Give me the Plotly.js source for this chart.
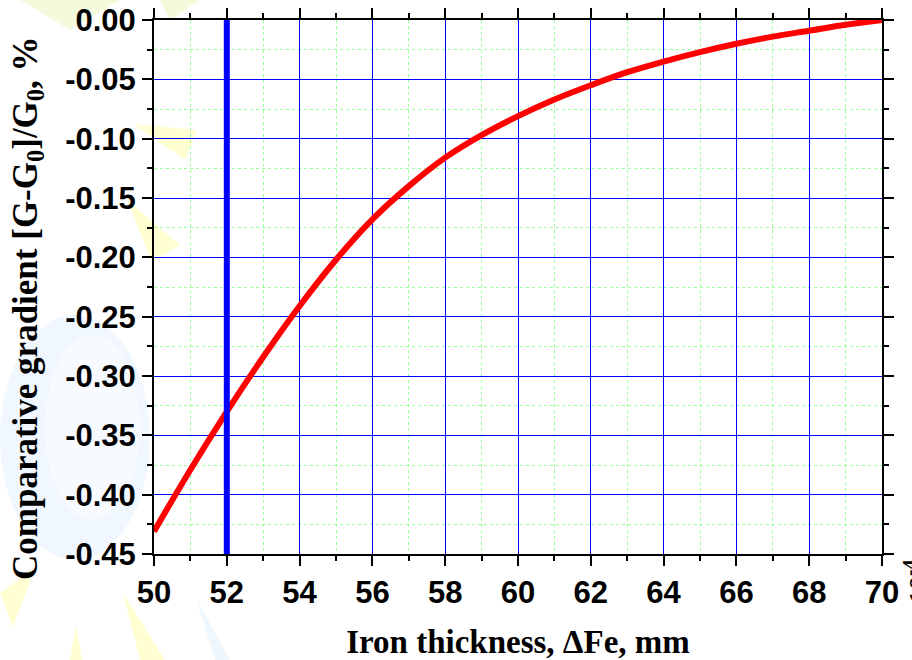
<!DOCTYPE html>
<html>
<head>
<meta charset="utf-8">
<script src="https://cdn.plot.ly/plotly-3.0.1.min.js"></script>
<style>
html,body{margin:0;padding:0;background:#fff;}
#chart{width:912px;height:660px;}
</style>
</head>
<body>
<div id="chart"></div>
<script>
// Data
const ironThickness = [50,51,52,53,54,55,56,57,58,59,60,61,62,63,64,65,66,67,68,69,70];
const relGradient = [-0.431,-0.379,-0.330,-0.284,-0.241,-0.202,-0.168,-0.140,-0.116,-0.097,-0.081,-0.067,-0.055,-0.044,-0.035,-0.027,-0.020,-0.014,-0.009,-0.004,0.000];
const markerThickness = [52, 52];
const markerRange = [-0.45, 0.0];
const xTickVals = [50,52,54,56,58,60,62,64,66,68,70];
const yTickVals = [0,-0.05,-0.10,-0.15,-0.20,-0.25,-0.30,-0.35,-0.40,-0.45];
const yTickText = ['0.00','-0.05','-0.10','-0.15','-0.20','-0.25','-0.30','-0.35','-0.40','-0.45'];

const traces = [
  {x: ironThickness, y: relGradient, mode: 'lines', line: {color: '#ff0000', width: 6, shape: 'spline', smoothing: 1}, hoverinfo: 'x+y', showlegend: false},
  {x: markerThickness, y: markerRange, mode: 'lines', line: {color: '#0000ff', width: 6}, showlegend: false}
];

const tickFont = {family: 'Liberation Sans, Arial, sans-serif', size: 31, color: '#000', weight: 'bold'};
const titleFont = {family: 'Liberation Serif, Times New Roman, serif', size: 33, color: '#000', weight: 'bold'};
const yTitleFont = {family: 'Liberation Serif, Times New Roman, serif', size: 35, color: '#000', weight: 'bold'};

// convert pixel coordinates to paper coordinates for decorative background shapes
const L = 154, R = 882, T = 20, B = 554;
function toPaper(pts) {
  return 'M' + pts.map(q => ((q[0]-L)/(R-L)).toFixed(4) + ',' + ((B-q[1])/(B-T)).toFixed(4)).join(' L') + ' Z';
}
function tri(pts, color) {
  return {type: 'path', xref: 'paper', yref: 'paper', path: toPaper(pts), fillcolor: color, line: {width: 0}, layer: 'below'};
}
const shapes = [
  // faint background watermark
  {type: 'circle', xref: 'paper', yref: 'paper', x0: (0-L)/(R-L), x1: (150-L)/(R-L), y0: (B-560)/(B-T), y1: (B-315)/(B-T), fillcolor: '#f0f7fe', line: {width: 0}, layer: 'below'},
  {type: 'circle', xref: 'paper', yref: 'paper', x0: (45-L)/(R-L), x1: (140-L)/(R-L), y0: (B-520)/(B-T), y1: (B-335)/(B-T), fillcolor: '#f7fbff', line: {width: 0}, layer: 'below'},
  tri([[133,124],[197,130],[185,160]], '#ffffd2'),
  tri([[127,200],[180,245],[152,262]], '#ffffd2'),
  tri([[0,593],[35,568],[13,627]], '#ffffd2'),
  tri([[123,593],[165,660],[140,660]], '#ffffd2'),
  tri([[76,625],[70,660],[82,660]], '#ffffd2'),
  tri([[196,598],[230,660],[215,660]], '#eef6fe'),
  tri([[160,0],[200,0],[170,20]], '#f4fbdc'),
  tri([[20,0],[120,0],[70,30]], '#f4fbdc')
];

const axisCommon = {
  showline: true, linecolor: '#000', linewidth: 2, mirror: 'allticks',
  ticks: 'outside', ticklen: 10, tickwidth: 2, tickcolor: '#000',
  showgrid: true, gridcolor: '#0000ff', gridwidth: 1, zeroline: false,
  tickfont: tickFont,
  minor: {ticks: 'outside', ticklen: 5, tickwidth: 2, tickcolor: '#000', showgrid: true, gridcolor: '#99ff99', gridwidth: 1, griddash: 'dot'}
};

const layout = {
  width: 912, height: 660,
  margin: {l: 154, r: 30, t: 20, b: 106},
  paper_bgcolor: '#ffffff', plot_bgcolor: 'rgba(0,0,0,0)',
  showlegend: false,
  xaxis: Object.assign({}, axisCommon, {
    range: [50, 70], tickvals: xTickVals, ticktext: xTickVals.map(String),
    minor: Object.assign({}, axisCommon.minor, {dtick: 1, tick0: 50}),
    title: {text: 'Iron thickness, ΔFe, mm', font: titleFont, standoff: 26}
  }),
  yaxis: Object.assign({}, axisCommon, {
    range: [-0.45, 0], tickvals: yTickVals, ticktext: yTickText,
    minor: Object.assign({}, axisCommon.minor, {dtick: 0.025, tick0: 0})
  }),
  shapes: shapes,
  annotations: [
    {text: 'Comparative gradient [G-G<sub>0</sub>]/G<sub>0</sub>, %', xref: 'paper', yref: 'paper',
     x: (27-L)/(R-L), y: (B-308)/(B-T), xanchor: 'center', yanchor: 'middle', textangle: -90,
     showarrow: false, font: yTitleFont},
    {text: '×10<sup>-4</sup>', xref: 'paper', yref: 'paper', x: (916-L)/(R-L), y: (B-590)/(B-T),
     xanchor: 'center', yanchor: 'middle', textangle: -90, showarrow: false,
     font: {family: 'Liberation Serif, serif', size: 28, color: '#000', weight: 'bold'}}
  ]
};

Plotly.newPlot('chart', traces, layout, {displayModeBar: false, staticPlot: true});
</script>
</body>
</html>
